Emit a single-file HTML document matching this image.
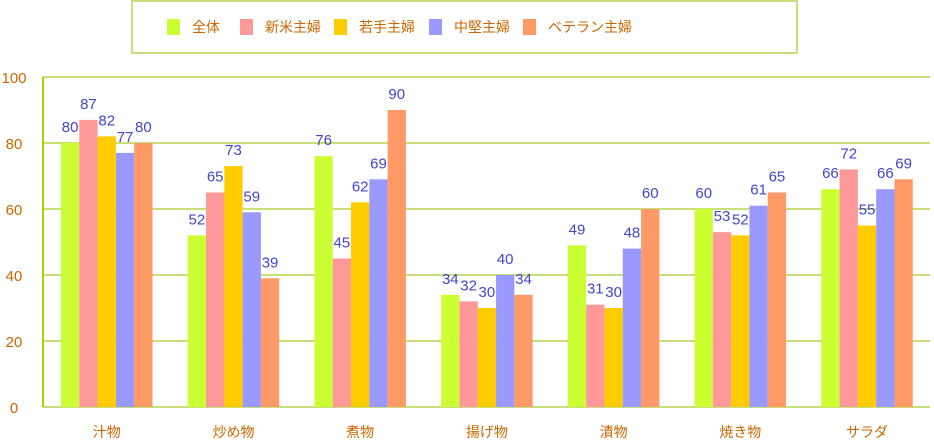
<!DOCTYPE html>
<html><head><meta charset="utf-8"><style>
body{margin:0;background:#fff;font-family:"Liberation Sans","Noto Sans CJK JP",sans-serif}
svg text{font-family:"Liberation Sans","Noto Sans CJK JP",sans-serif}
</style></head><body>
<svg id="c" width="934" height="441" xmlns="http://www.w3.org/2000/svg">
<rect x="132" y="1" width="665" height="52" fill="#fff" stroke="#c8e07a" stroke-width="2"/>
<g id="legend"></g>
<g id="grid"></g>
<g id="bars"></g>
</svg>
<script>
const categories=["汁物","炒め物","煮物","揚げ物","漬物","焼き物","サラダ"];
const seriesNames=["全体","新米主婦","若手主婦","中堅主婦","ベテラン主婦"];
const s0=[80,52,76,34,49,60,66];
const s1=[87,65,45,32,31,53,72];
const s2=[82,73,62,30,30,52,55];
const s3=[77,59,69,40,48,61,66];
const s4=[80,39,90,34,60,65,69];
const yTicks=[0,20,40,60,80,100];
const series=[s0,s1,s2,s3,s4];
const colors=["#ccff33","#ff9999","#ffcc00","#9999ff","#ff9966"];
const NS="http://www.w3.org/2000/svg";
const X0=43,X1=930,Y0=407,Y1=77;
const y=v=>Y0-(v/100)*(Y0-Y1);
const gw=(X1-X0)/categories.length, bw=18.3;
const x=(i,j)=>X0+i*gw+18+j*bw;
function mk(t,a){const e=document.createElementNS(NS,t);for(const k in a)e.setAttribute(k,a[k]);return e;}
const grid=document.getElementById('grid');
yTicks.forEach(t=>{
 const l=mk('line',{x1:X0,x2:X1,y1:y(t),y2:y(t),stroke:'#c8e07a','stroke-width':2});
 
 
 grid.appendChild(l);
 const tx=mk('text',{x:14,y:y(t)+6,'text-anchor':'middle','font-size':15,fill:'#cc6600'});
 tx.textContent=t;
 
 
 grid.appendChild(tx);
});
const ax=mk('line',{x1:X0,x2:X0,y1:Y1,y2:Y0,stroke:'#aad400','stroke-width':2});


grid.appendChild(ax);
const bars=document.getElementById('bars');
categories.forEach((c,i)=>{
 series.forEach((s,j)=>{
  const r=mk('rect',{x:x(i,j),y:y(s[i]),width:bw,height:Y0-y(s[i]),fill:colors[j]});
  
  
  bars.appendChild(r);
  const t=mk('text',{x:x(i,j)+bw/2,y:y(s[i])-11,'text-anchor':'middle','font-size':15,fill:'#4444cc'});
  t.textContent=s[i];
  
  
  bars.appendChild(t);
 });
 const cl=mk('text',{x:X0+i*gw+18+2.5*bw,y:437,'text-anchor':'middle','font-size':14,fill:'#cc6600'});
 cl.textContent=c;
 
 
 bars.appendChild(cl);
});
const lg=document.getElementById('legend');
const lx=[167,240,334,429,523];
seriesNames.forEach((n,j)=>{
 const r=mk('rect',{x:lx[j],y:19,width:13,height:16,fill:colors[j]});
 
 
 lg.appendChild(r);
 const t=mk('text',{x:lx[j]+25,y:32,'font-size':14,fill:'#cc6600'});
 t.textContent=n;
 
 
 lg.appendChild(t);
});
</script>
</body></html>
